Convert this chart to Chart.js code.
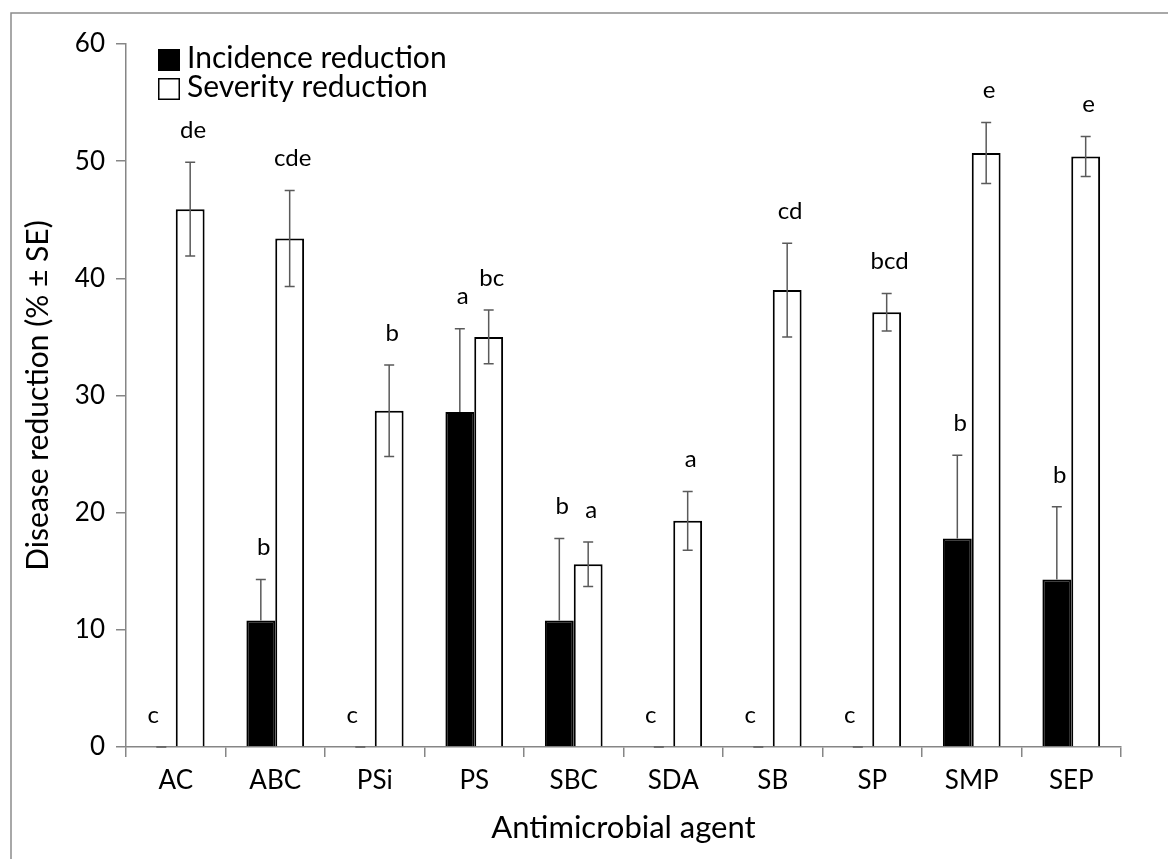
<!DOCTYPE html>
<html>
<head>
<meta charset="utf-8">
<script src="https://cdn.jsdelivr.net/npm/chart.js@4/dist/chart.umd.min.js"></script>
<style>
  html, body { margin: 0; padding: 0; background: #ffffff; }
  #wrap { width: 1168px; height: 859px; position: relative; }
</style>
</head>
<body>
<div id="wrap"><canvas id="c" width="1168" height="859"></canvas></div>
<script>
const categories = ['AC', 'ABC', 'PSi', 'PS', 'SBC', 'SDA', 'SB', 'SP', 'SMP', 'SEP'];
const incidence = [0, 10.8, 0, 28.6, 10.8, 0, 0, 0, 17.8, 14.3];
const incidenceSE = [0, 3.5, 0, 7.1, 7.0, 0, 0, 0, 7.1, 6.2];
const severity = [45.9, 43.4, 28.7, 35.0, 15.6, 19.3, 39.0, 37.1, 50.7, 50.4];
const severitySE = [4.0, 4.1, 3.9, 2.3, 1.9, 2.5, 4.0, 1.6, 2.6, 1.7];
const incidenceLetters = ['c', 'b', 'c', 'a', 'b', 'c', 'c', 'c', 'b', 'b'];
const severityLetters = ['de', 'cde', 'b', 'bc', 'a', 'a', 'cd', 'bcd', 'e', 'e'];
const yTicks = [0, 10, 20, 30, 40, 50, 60];

const FONT = 'Lato, "Open Sans", sans-serif';
const AXIS_GRAY = '#868686';

const errorInfo = [
  { se: incidenceSE, letters: incidenceLetters, plusOnly: true },
  { se: severitySE, letters: severityLetters, plusOnly: false }
];

const decorPlugin = {
  id: 'decor',
  beforeDraw(chart) {
    const ctx = chart.ctx;
    ctx.save();
    ctx.fillStyle = '#ffffff';
    ctx.fillRect(0, 0, chart.width, chart.height);
    ctx.strokeStyle = '#8c8c8c';
    ctx.lineWidth = 1.5;
    ctx.beginPath();
    ctx.moveTo(11, chart.height + 5);
    ctx.lineTo(11, 13);
    ctx.lineTo(chart.width + 5, 13);
    ctx.stroke();
    ctx.restore();
  },
  afterDatasetsDraw(chart) {
    const ctx = chart.ctx;
    const yScale = chart.scales.y;
    ctx.save();
    chart.data.datasets.forEach((ds, di) => {
      const meta = chart.getDatasetMeta(di);
      const info = errorInfo[di];
      meta.data.forEach((bar, i) => {
        const v = ds.data[i];
        const se = info.se[i];
        const x = bar.x;
        const yTop = yScale.getPixelForValue(v + se);
        const yBot = info.plusOnly ? yScale.getPixelForValue(v) : yScale.getPixelForValue(v - se);
        ctx.strokeStyle = '#5a5a5a';
        ctx.lineWidth = 1.5;
        ctx.beginPath();
        ctx.moveTo(x, yTop);
        ctx.lineTo(x, yBot);
        ctx.moveTo(x - 5, yTop);
        ctx.lineTo(x + 5, yTop);
        if (!info.plusOnly) {
          ctx.moveTo(x - 5, yBot);
          ctx.lineTo(x + 5, yBot);
        }
        ctx.stroke();
        ctx.fillStyle = '#000000';
        ctx.font = '24px ' + FONT;
        ctx.textAlign = 'center';
        ctx.textBaseline = 'middle';
        ctx.fillText(info.letters[i], x + (v === 0 ? -8 : 3), yTop - 32);
      });
    });
    // legend
    const items = chart.data.datasets;
    const boxes = [{ y: 49 }, { y: 78 }];
    items.forEach((ds, i) => {
      const by = boxes[i].y;
      ctx.fillStyle = ds.backgroundColor;
      ctx.fillRect(158, by, 22, 22);
      ctx.strokeStyle = '#000000';
      ctx.lineWidth = 1.5;
      ctx.strokeRect(158.75, by + 0.75, 20.5, 20.5);
      ctx.fillStyle = '#000000';
      ctx.font = '30px ' + FONT;
      ctx.textAlign = 'left';
      ctx.textBaseline = 'alphabetic';
      ctx.fillText(ds.label, 187, by + 19);
    });
    ctx.restore();
  }
};

new Chart(document.getElementById('c'), {
  type: 'bar',
  data: {
    labels: categories,
    datasets: [
      {
        label: 'Incidence reduction',
        data: incidence,
        backgroundColor: '#000000',
        borderColor: '#000000',
        borderWidth: 2,
        categoryPercentage: 0.58,
        barPercentage: 1.0
      },
      {
        label: 'Severity reduction',
        data: severity,
        backgroundColor: '#ffffff',
        borderColor: '#000000',
        borderWidth: 2,
        borderSkipped: 'bottom',
        categoryPercentage: 0.58,
        barPercentage: 1.0
      }
    ]
  },
  options: {
    responsive: false,
    animation: false,
    devicePixelRatio: 1,
    layout: { padding: { top: 44, right: 47, left: 0, bottom: 0 } },
    plugins: {
      legend: { display: false },
      tooltip: { enabled: false }
    },
    scales: {
      x: {
        grid: {
          display: true,
          offset: true,
          drawOnChartArea: false,
          drawTicks: true,
          tickLength: 10,
          color: AXIS_GRAY,
          lineWidth: 1.5
        },
        border: { display: true, color: AXIS_GRAY, width: 1.5 },
        ticks: {
          color: '#000000',
          font: { family: FONT, size: 26 },
          padding: 8,
          maxRotation: 0
        },
        title: {
          display: true,
          text: 'Antimicrobial agent',
          color: '#000000',
          font: { family: FONT, size: 31 },
          padding: { top: 0, bottom: 12 }
        },
        afterFit(scale) { scale.height = 112; }
      },
      y: {
        min: 0,
        max: 60,
        afterBuildTicks(scale) { scale.ticks = yTicks.map(v => ({ value: v })); },
        grid: {
          display: true,
          drawOnChartArea: false,
          drawTicks: true,
          tickLength: 10,
          color: AXIS_GRAY,
          lineWidth: 1.5
        },
        border: { display: true, color: AXIS_GRAY, width: 1.5 },
        ticks: {
          color: '#000000',
          font: { family: FONT, size: 26 },
          padding: 11
        },
        title: {
          display: true,
          text: 'Disease reduction (% ± SE)',
          color: '#000000',
          font: { family: FONT, size: 30 },
          padding: { top: 20, bottom: 0 }
        },
        afterFit(scale) { scale.width = 126; }
      }
    }
  },
  plugins: [decorPlugin]
});
</script>
</body>
</html>
